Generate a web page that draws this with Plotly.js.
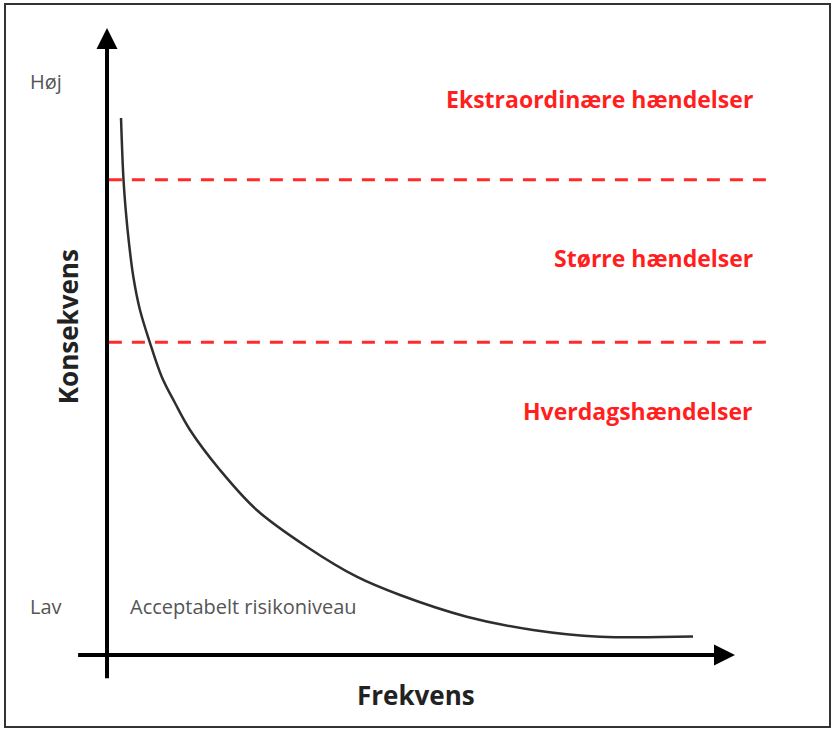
<!DOCTYPE html>
<html>
<head>
<meta charset="utf-8">
<script src="https://cdn.plot.ly/plotly-3.0.1.min.js"></script>
<style>html,body{margin:0;padding:0;background:#fff;}#chart{width:836px;height:734px;}</style>
</head>
<body>
<div id="chart"></div>
<script>
// Risk curve: frequency (x) vs consequence (y), in abstract units 0..10
const curveFrequency = [0.223, 0.260, 0.298, 0.350, 0.419, 0.525, 0.685, 0.871, 1.083, 1.322, 1.799, 2.384, 3.180, 3.976, 4.666, 5.728, 6.783, 7.850, 9.331];
const curveConsequence = [8.565, 7.628, 7.097, 6.571, 6.033, 5.502, 4.976, 4.439, 4.019, 3.589, 2.951, 2.313, 1.727, 1.249, 0.957, 0.611, 0.399, 0.292, 0.295];
// Zone thresholds on the consequence axis
const thresholds = [7.58, 4.99];
const thresholdExtent = [0.03, 10.53];
// Zone labels (top to bottom)
const zoneLabels = ["Ekstraordinære hændelser", "Større hændelser", "Hverdagshændelser"];
const levelLabels = ["Høj", "Lav"];
const acceptLabel = "Acceptabelt risikoniveau";
const xTitle = "Frekvens";
const yTitle = "Konsekvens";

const traces = [];
thresholds.forEach(t => {
  traces.push({
    x: thresholdExtent, y: [t, t], mode: 'lines', hoverinfo: 'skip',
    line: {color: '#ff2b2b', width: 3, dash: '13px,10px'}
  });
});
traces.push({
  x: curveFrequency, y: curveConsequence, mode: 'lines', hoverinfo: 'skip',
  line: {color: '#2e2e2e', width: 2.5, shape: 'spline', smoothing: 1}
});

const font = "'Open Sans', 'DejaVu Sans', sans-serif";
const zoneY = [8.87, 6.33, 3.89];
const annotations = [];
zoneLabels.forEach((t, i) => annotations.push({
  x: 10.32, y: zoneY[i], xref: 'x', yref: 'y', text: '<b>' + t + '</b>', showarrow: false,
  xanchor: 'right', yanchor: 'middle', font: {family: font, size: 23, color: '#ff1f1f'}
}));
annotations.push({x: -0.97, y: 9.15, xref: 'x', yref: 'y', text: levelLabels[0], showarrow: false,
  xanchor: 'center', yanchor: 'middle', font: {family: font, size: 20, color: '#555'}});
annotations.push({x: -0.97, y: 0.77, xref: 'x', yref: 'y', text: levelLabels[1], showarrow: false,
  xanchor: 'center', yanchor: 'middle', font: {family: font, size: 20, color: '#555'}});
annotations.push({x: 0.33, y: 0.77, xref: 'x', yref: 'y', text: acceptLabel, showarrow: false,
  xanchor: 'left', yanchor: 'middle', font: {family: font, size: 20, color: '#555'}});
annotations.push({x: 4.92, y: -0.64, xref: 'x', yref: 'y', text: '<b>' + xTitle + '</b>', showarrow: false,
  xanchor: 'center', yanchor: 'middle', font: {family: font, size: 26, color: '#222'}});
annotations.push({x: -0.62, y: 5.23, xref: 'x', yref: 'y', text: '<b>' + yTitle + '</b>', showarrow: false,
  textangle: -90, xanchor: 'center', yanchor: 'middle', font: {family: font, size: 26, color: '#222'}});
// arrow heads
annotations.push({x: 0, y: 10, ax: 0, ay: 9.5, xref: 'x', yref: 'y', axref: 'x', ayref: 'y',
  showarrow: true, arrowhead: 2, arrowwidth: 4, arrowsize: 1.05, arrowcolor: '#000', standoff: 0});
annotations.push({x: 10, y: 0, ax: 9.5, ay: 0, xref: 'x', yref: 'y', axref: 'x', ayref: 'y',
  showarrow: true, arrowhead: 2, arrowwidth: 4, arrowsize: 1.05, arrowcolor: '#000', standoff: 0});

const shapes = [
  {type: 'line', xref: 'x', yref: 'y', x0: 0, x1: 0, y0: -0.37, y1: 9.7, line: {color: '#000', width: 4}},
  {type: 'line', xref: 'x', yref: 'y', x0: -0.46, x1: 9.7, y0: 0, y1: 0, line: {color: '#000', width: 4}},
  {type: 'rect', xref: 'paper', yref: 'paper', x0: 5/836, x1: 830/836, y0: 1 - 727/734, y1: 1 - 4/734,
   line: {color: '#333', width: 2}}
];

const layout = {
  width: 836, height: 734,
  margin: {l: 0, r: 0, t: 0, b: 0},
  paper_bgcolor: '#fff', plot_bgcolor: '#fff',
  showlegend: false,
  xaxis: {range: [-1.704, 11.608], visible: false, fixedrange: true},
  yaxis: {range: [-1.26, 10.447], visible: false, fixedrange: true},
  shapes: shapes,
  annotations: annotations
};
Plotly.newPlot('chart', traces, layout, {staticPlot: true, displayModeBar: false});
</script>
</body>
</html>
